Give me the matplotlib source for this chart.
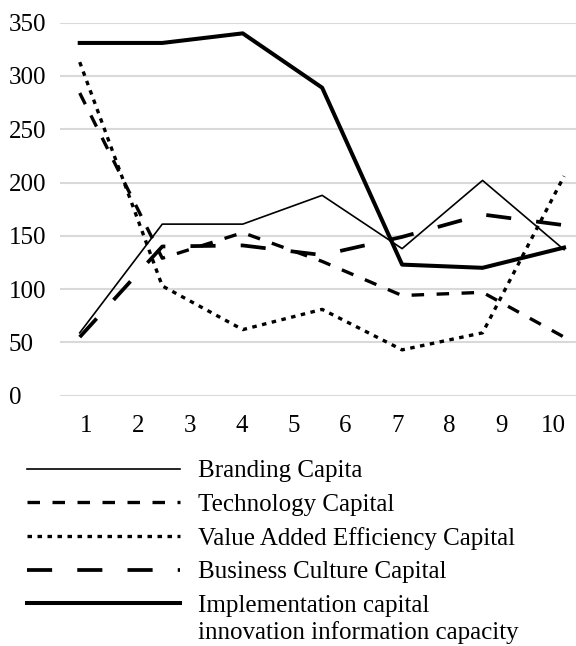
import matplotlib
matplotlib.use("Agg")
import matplotlib.pyplot as plt

plt.rcParams['font.family'] = ['Liberation Serif', 'DejaVu Serif']

x = [0.88, 2.47, 4.02, 5.55, 7.09, 8.64, 10.21]
branding = [59, 161, 161, 188, 138, 202, 137]
technology = [284, 129, 153, 126, 94, 97, 55]
value_added = [313, 103, 62, 81, 43, 59, 206]
culture = [55, 140, 141, 132, 149, 170, 160]
implementation = [331, 331, 340, 289, 123, 120, 139]

labels = ['Branding Capita', 'Technology Capital', 'Value Added Efficiency Capital',
          'Business Culture Capital', 'Implementation capital']
label_extra = 'innovation information capacity'
xticks = list(range(1, 11))
yticks = [0, 50, 100, 150, 200, 250, 300, 350]

fig = plt.figure(figsize=(5.76, 6.46), dpi=100)
ax = fig.add_axes([60/576, 1 - 395.7/646, 516/576, 373/646])

ax.plot(x, branding, color='black', lw=1.2, label=labels[0])
ax.plot(x, technology, color='black', lw=2.4, dashes=(3.75, 3.75), label=labels[1])
ax.plot(x, value_added, color='black', lw=2.4, dashes=(1.35, 1.65), label=labels[2])
ax.plot(x, culture, color='black', lw=2.7, dashes=(6.7, 6.7), label=labels[3])
ax.plot(x, implementation, color='black', lw=2.9, label=labels[4])

ax.set_xlim(0.5, 10.44)
ax.set_ylim(0, 350)
ax.set_xticks(xticks)
ax.set_yticks(yticks)
ax.tick_params(length=0, labelsize=18, colors='black')
ax.tick_params(axis='x', pad=14)
for lbl in ax.get_yticklabels():
    lbl.set_horizontalalignment('left')
ax.tick_params(axis='y', pad=37)
ax.grid(axis='y', color='#d9d9d9', lw=1.5)
ax.set_axisbelow(True)
for s in ax.spines.values():
    s.set_visible(False)

leg = fig.legend(loc='upper left', bbox_to_anchor=(27/576, 1 - 460/646), frameon=False,
                 fontsize=18, handlelength=6.1, handletextpad=0.72, labelspacing=0.44,
                 borderpad=0, borderaxespad=0)

# second line of the last legend label sits under the first one
fig.canvas.draw()
bb = leg.get_texts()[-1].get_window_extent()
fig.text(bb.x0 / 576, (bb.y0 - 4) / 646, label_extra, fontsize=18, va='top', ha='left')

fig.savefig('out.png', dpi=100)
